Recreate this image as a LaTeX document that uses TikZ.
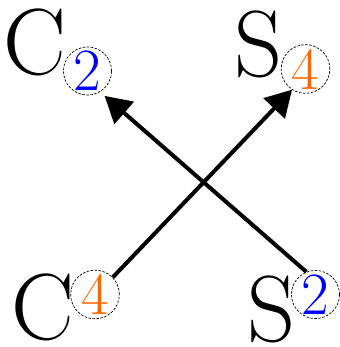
\documentclass[tikz,border=0pt]{standalone}
\usepackage{fontspec}
\definecolor{numBlue}{RGB}{0,0,255}
\definecolor{numOrange}{RGB}{255,102,0}
\usetikzlibrary{arrows.meta}
\tikzset{
  letter/.style={inner sep=0pt, anchor=base, font=\addfontfeatures{FakeBold=1.2}\fontsize{94}{94}\selectfont},
  numcircle/.style={circle, draw=black, line width=0.7pt, dash pattern=on 2.5pt off 1.5pt, minimum size=48pt, inner sep=0pt, text=#1, font=\fontsize{60}{60}\selectfont},
  numcircle/.default=numBlue,
  bigarrow/.style={-{Triangle[length=26pt, width=29pt]}, line width=4pt, black},
}
\begin{document}
\begin{tikzpicture}[x=1pt, y=-1pt]
  \useasboundingbox (0,0) rectangle (339,347);
  % top row
  \node[letter] (cTop) at (35, 75) {C};
  \node[numcircle=numBlue] (cTopNum) at (87.5, 71) {2};
  \node[letter] (sTop) at (259, 77) {S};
  \node[numcircle=numOrange] (sTopNum) at (305.5, 69) {4};
  % bottom row
  \node[letter] (cBot) at (43, 339) {C};
  \node[numcircle=numOrange] (cBotNum) at (95, 294.5) {4};
  \node[letter] (sBot) at (272, 341) {S};
  \node[numcircle=numBlue] (sBotNum) at (315.5, 294.5) {2};
  % crossing arrows
  \draw[bigarrow] (cBotNum.44) -- (sTopNum.237);
  \draw[bigarrow, shorten >=6pt] (sBotNum.112) -- (cTopNum.301);
\end{tikzpicture}
\end{document}
